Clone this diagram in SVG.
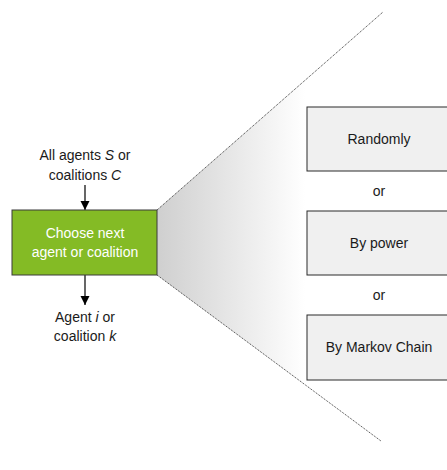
<svg xmlns="http://www.w3.org/2000/svg" width="447" height="470" viewBox="0 0 447 470">
  <style>
    .t { font-family: "Liberation Sans", "DejaVu Sans", sans-serif; font-size: 14px; fill: #1a1a1a; text-anchor: middle; }
    .w { fill: #ffffff; }
    .opt { fill: #f0f0f0; stroke: #2a2a2a; stroke-width: 1; }
    .fan { fill: none; stroke: #222222; stroke-width: 0.9; stroke-dasharray: 1 1; }
    .arr { stroke: #000000; stroke-width: 1.2; fill: none; }
  </style>
  <defs>
    <linearGradient id="fade" x1="157" y1="0" x2="305" y2="0" gradientUnits="userSpaceOnUse">
      <stop offset="0" stop-color="#cfcfcf"/>
      <stop offset="1" stop-color="#ffffff"/>
    </linearGradient>
    <marker id="head" viewBox="0 0 10 10" refX="10" refY="5" markerWidth="9" markerHeight="10" markerUnits="userSpaceOnUse" orient="auto">
      <path d="M0,0 L10,5 L0,10 z" fill="#000000"/>
    </marker>
  </defs>

  <!-- zoom fan behind the option boxes -->
  <polygon points="157,210 383,12 381,441 157,275" fill="url(#fade)"/>

  <g id="connectors">
    <line class="fan" x1="157" y1="210" x2="383" y2="12"/>
    <line class="fan" x1="157" y1="275" x2="381" y2="441"/>
    <line class="arr" x1="85" y1="185" x2="85" y2="210" marker-end="url(#head)"/>
    <line class="arr" x1="85" y1="275" x2="85" y2="305" marker-end="url(#head)"/>
  </g>

  <g id="input">
    <text class="t" x="85" y="160">All agents <tspan font-style="italic">S</tspan> or</text>
    <text class="t" x="85" y="180">coalitions <tspan font-style="italic">C</tspan></text>
  </g>

  <g id="choose">
    <rect x="12" y="210" width="145" height="65" fill="#84bb25" stroke="#3a3a3a" stroke-width="1"/>
    <text class="t w" x="85" y="238">Choose next</text>
    <text class="t w" x="85" y="257">agent or coalition</text>
  </g>

  <g id="output">
    <text class="t" x="85" y="322">Agent <tspan font-style="italic">i</tspan> or</text>
    <text class="t" x="85" y="341">coalition <tspan font-style="italic">k</tspan></text>
  </g>

  <g id="randomly">
    <rect class="opt" x="307" y="107" width="145" height="64"/>
    <text class="t" x="379" y="144">Randomly</text>
  </g>
  <text class="t" x="379" y="196">or</text>
  <g id="by-power">
    <rect class="opt" x="307" y="211" width="145" height="64"/>
    <text class="t" x="379" y="248">By power</text>
  </g>
  <text class="t" x="379" y="300">or</text>
  <g id="by-markov">
    <rect class="opt" x="307" y="315" width="145" height="65"/>
    <text class="t" x="379" y="352">By Markov Chain</text>
  </g>
</svg>
